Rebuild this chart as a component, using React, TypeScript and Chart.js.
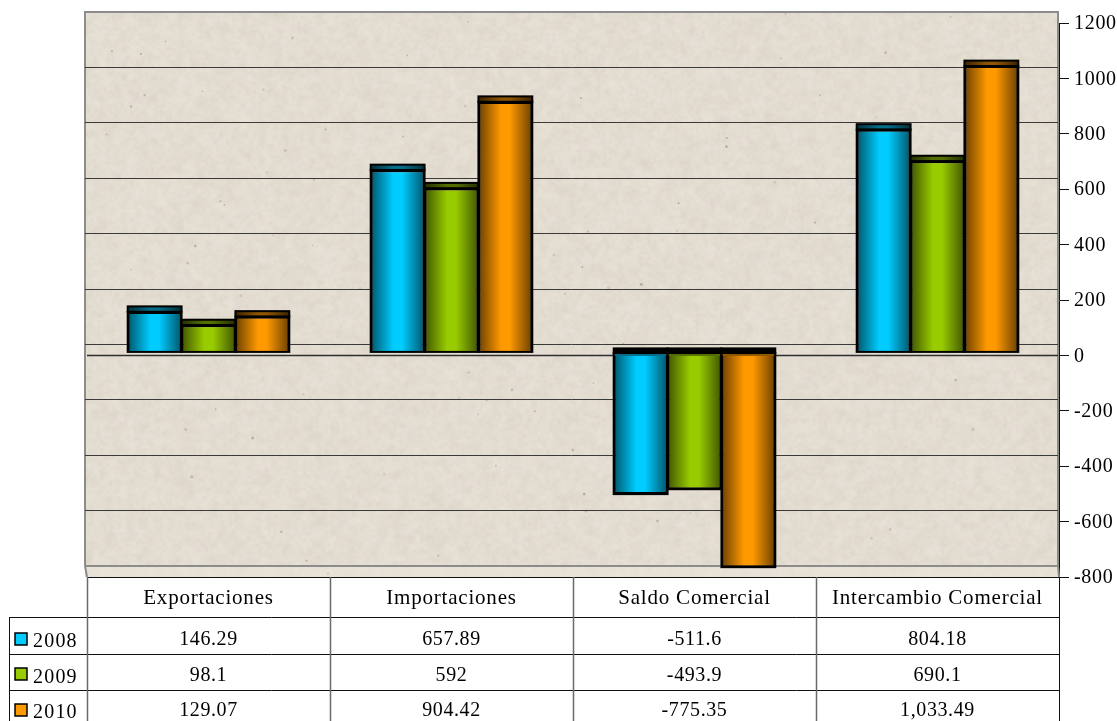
import React, { useEffect, useRef } from "react";
import { Chart, registerables } from "chart.js";

Chart.register(...registerables);

const categories = ["Exportaciones", "Importaciones", "Saldo Comercial", "Intercambio Comercial"];
const years = ["2008", "2009", "2010"];
const values2008 = [146.29, 657.89, -511.6, 804.18];
const values2009 = [98.1, 592, -493.9, 690.1];
const values2010 = [129.07, 904.42, -775.35, 1033.49];
const colors = ["#00CCFF", "#99CC00", "#FF9900"];
const capColors = ["#0A9CC4", "#7A9E00", "#CC7A00"];

const FONT = '"Liberation Serif", serif';
const BAR_SHIFT = 3;
const WALL_SHIFT = 11.5;
const CAP = 5.5;

const fmt = (v: number) => v.toLocaleString("en-US", { maximumFractionDigits: 2 });

function paintTexture(ctx: CanvasRenderingContext2D, l: number, t: number, w: number, h: number) {
  ctx.save();
  ctx.fillStyle = "#E4DDD1";
  ctx.fillRect(l, t, w, h);
  let s = 12345;
  const next = () => {
    s = (s * 1103515245 + 12345) & 0x7fffffff;
    return s / 0x7fffffff;
  };
  const layer = (scale: number, amp: number) => {
    const cw = Math.ceil(w / scale);
    const ch = Math.ceil(h / scale);
    const off = document.createElement("canvas");
    off.width = cw;
    off.height = ch;
    const oc = off.getContext("2d")!;
    const img = oc.createImageData(cw, ch);
    for (let i = 0; i < img.data.length; i += 4) {
      const n = next();
      const dark = n < 0.42;
      img.data[i] = dark ? 190 : 245;
      img.data[i + 1] = dark ? 180 : 242;
      img.data[i + 2] = dark ? 165 : 236;
      img.data[i + 3] = Math.abs(n - 0.42) * 2 * amp;
    }
    oc.putImageData(img, 0, 0);
    ctx.imageSmoothingEnabled = true;
    ctx.drawImage(off, l, t, w, h);
  };
  layer(3, 34);
  layer(7, 30);
  for (let i = 0; i < 90; i++) {
    const x = l + next() * w;
    const y = t + next() * h;
    ctx.fillStyle = `rgba(130,120,105,${0.2 + next() * 0.3})`;
    ctx.beginPath();
    ctx.arc(x, y, 0.7 + next() * 0.9, 0, Math.PI * 2);
    ctx.fill();
  }
  ctx.restore();
}

const wallPlugin = {
  id: "wall",
  beforeDraw(chart: any) {
    (chart.ctx as any).letterSpacing = "0.7px";
  },
  beforeDatasetsDraw(chart: any) {
    const { ctx, chartArea: a, scales } = chart;
    (ctx as any).letterSpacing = "0px";
    const y = scales.y;
    const wallL = a.left - 2;
    const wallR = a.right - 1;
    const wallT = a.top - 11;
    const wallB = a.bottom - 11;
    paintTexture(ctx, wallL, wallT, wallR - wallL, a.bottom - wallT);

    ctx.save();
    ctx.beginPath();
    ctx.moveTo(wallL, wallB);
    ctx.lineTo(wallR, wallB);
    ctx.lineTo(a.right, a.bottom);
    ctx.lineTo(a.left, a.bottom);
    ctx.closePath();
    ctx.fillStyle = "rgba(236,230,218,0.55)";
    ctx.fill();

    ctx.strokeStyle = "#8C8C8C";
    ctx.lineWidth = 2;
    ctx.beginPath();
    ctx.moveTo(wallL, wallB);
    ctx.lineTo(wallL, wallT);
    ctx.lineTo(wallR, wallT);
    ctx.lineTo(wallR, wallB);
    ctx.lineTo(wallL, wallB);
    ctx.moveTo(wallL, wallB);
    ctx.lineTo(a.left, a.bottom);
    ctx.moveTo(wallR, wallB);
    ctx.lineTo(a.right, a.bottom);
    ctx.stroke();

    ctx.strokeStyle = "#3A3A3A";
    ctx.lineWidth = 1;
    y.ticks.forEach((tick: any) => {
      if (tick.value === y.max || tick.value === y.min) return;
      const p = Math.round(y.getPixelForValue(tick.value) - WALL_SHIFT) + 0.5;
      ctx.beginPath();
      ctx.moveTo(wallL, p);
      ctx.lineTo(wallR, p);
      ctx.stroke();
    });
    const zero = Math.round(y.getPixelForValue(0));
    ctx.strokeStyle = "#2E2E2E";
    ctx.lineWidth = 1.6;
    ctx.beginPath();
    ctx.moveTo(a.left, zero + 0.5);
    ctx.lineTo(wallR, zero + 0.5);
    ctx.stroke();
    ctx.restore();

    ctx.save();
    ctx.translate(0, -BAR_SHIFT);
  },
  afterDatasetsDraw(chart: any) {
    const { ctx } = chart;
    chart.data.datasets.forEach((ds: any, di: number) => {
      chart.getDatasetMeta(di).data.forEach((bar: any, i: number) => {
        const v = ds.data[i];
        const l = bar.x - bar.width / 2;
        const w = bar.width;
        const top = Math.min(bar.y, bar.base);
        const h = Math.abs(bar.y - bar.base);
        const g = ctx.createLinearGradient(l, 0, l + w, 0);
        g.addColorStop(0, "rgba(0,0,0,0.58)");
        g.addColorStop(0.42, "rgba(0,0,0,0)");
        g.addColorStop(0.58, "rgba(0,0,0,0)");
        g.addColorStop(1, "rgba(0,0,0,0.58)");
        ctx.fillStyle = g;
        ctx.fillRect(l + 1, top + 1, w - 2, h - 2);
        ctx.lineWidth = 2;
        ctx.strokeStyle = "#000";
        if (v >= 0) {
          ctx.fillStyle = capColors[di];
          ctx.fillRect(l, top - CAP, w, CAP);
          ctx.fillStyle = "rgba(0,0,0,0.3)";
          ctx.fillRect(l, top - CAP, w, CAP);
          ctx.fillStyle = g;
          ctx.fillRect(l, top - CAP, w, CAP);
          ctx.strokeRect(l, top - CAP, w, CAP);
        } else {
          ctx.fillStyle = capColors[di];
          ctx.fillRect(l + 1, top, w - 2, 3);
          ctx.fillStyle = "rgba(0,0,0,0.3)";
          ctx.fillRect(l + 1, top, w - 2, 3);
          ctx.fillStyle = "#000";
          ctx.fillRect(l - 1, top - CAP, w + 2, CAP + 1);
        }
        ctx.strokeRect(l, top, w, h);
      });
    });
    ctx.restore();
  },
};

const tablePlugin = {
  id: "dataTable",
  afterDraw(chart: any) {
    const { ctx, chartArea: a, scales } = chart;
    const x = scales.x;
    const step = x.getPixelForValue(1) - x.getPixelForValue(0);
    const rows = [a.bottom, 617, 653.5, 690];
    const headMid = 598;
    const numMid = [639.5, 675.5, 711];
    const keyTop = [633, 668, 704];
    const yearMid = [642, 678, 713];
    const series = [values2008, values2009, values2010];
    ctx.save();
    ctx.strokeStyle = "#111";
    ctx.lineWidth = 1;
    ctx.beginPath();
    ctx.moveTo(a.left, a.bottom + 0.5);
    ctx.lineTo(a.right, a.bottom + 0.5);
    rows.slice(1).forEach((r) => {
      ctx.moveTo(9, Math.round(r) + 0.5);
      ctx.lineTo(a.right, Math.round(r) + 0.5);
    });
    ctx.moveTo(9.5, 617);
    ctx.lineTo(9.5, 721);
    ctx.moveTo(a.right + 0.5, a.bottom);
    ctx.lineTo(a.right + 0.5, 721);
    ctx.stroke();
    ctx.strokeStyle = "#6A6A6A";
    ctx.lineWidth = 1.5;
    ctx.beginPath();
    categories.forEach((_, i) => {
      const p = Math.round(x.getPixelForValue(i) - step / 2) + 0.5;
      ctx.moveTo(p, a.bottom);
      ctx.lineTo(p, 721);
    });
    ctx.stroke();

    ctx.fillStyle = "#000";
    ctx.textAlign = "center";
    ctx.textBaseline = "middle";
    categories.forEach((c, i) => {
      const cx = x.getPixelForValue(i);
      ctx.font = `21px ${FONT}`;
      (ctx as any).letterSpacing = "0.8px";
      ctx.fillText(c, cx, headMid);
      ctx.font = `20px ${FONT}`;
      (ctx as any).letterSpacing = "0.6px";
      series.forEach((s, r) => ctx.fillText(fmt(s[i]), cx, numMid[r]));
    });
    ctx.textAlign = "left";
    (ctx as any).letterSpacing = "1.2px";
    years.forEach((yr, r) => {
      ctx.fillStyle = colors[r];
      ctx.fillRect(15, keyTop[r], 12, 12);
      ctx.strokeStyle = "#000";
      ctx.lineWidth = 1.5;
      ctx.strokeRect(15, keyTop[r], 12, 12);
      ctx.fillStyle = "#000";
      ctx.fillText(yr, 33, yearMid[r]);
    });
    ctx.restore();
    (ctx as any).letterSpacing = "0px";
  },
};

export default function App() {
  const ref = useRef<HTMLCanvasElement | null>(null);
  useEffect(() => {
    if (!ref.current) return;
    const chart = new Chart(ref.current, {
      type: "bar",
      data: {
        labels: categories,
        datasets: [values2008, values2009, values2010].map((d, i) => ({
          label: years[i],
          data: d,
          backgroundColor: colors[i],
          borderColor: "#000",
          borderWidth: 2,
          categoryPercentage: 0.665,
          barPercentage: 1,
        })),
      },
      options: {
        animation: false,
        responsive: false,
        devicePixelRatio: 1,
        layout: { padding: { left: 87, top: 23, right: 0, bottom: 144 } },
        plugins: { legend: { display: false }, tooltip: { enabled: false } },
        scales: {
          x: { display: false, grid: { display: false } },
          y: {
            position: "right",
            min: -800,
            max: 1200,
            afterFit: (s: any) => {
              s.width = 58;
            },
            border: { display: true, color: "#111", width: 1 },
            grid: { drawOnChartArea: false, drawTicks: true, tickLength: 10, color: "#111" },
            ticks: {
              stepSize: 200,
              color: "#000",
              padding: 5,
              labelOffset: 1,
              font: { family: FONT, size: 20 },
              callback: (v: any) => String(v),
            },
          },
        },
      },
      plugins: [wallPlugin, tablePlugin],
    });
    return () => chart.destroy();
  }, []);
  return (
    <canvas
      ref={ref}
      width={1117}
      height={721}
      style={{ position: "absolute", left: 0, top: 0, display: "block", background: "#fff" }}
    />
  );
}
